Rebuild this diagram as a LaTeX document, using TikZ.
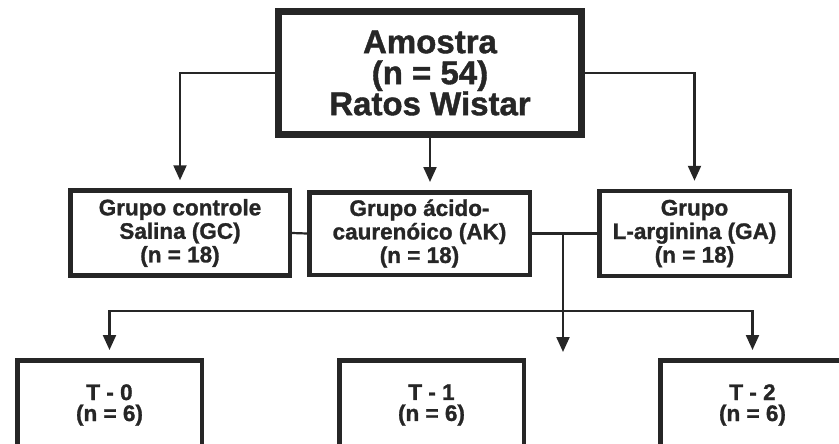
\documentclass[tikz,border=0pt]{standalone}
\usepackage{fontspec}
\setmainfont{Liberation Sans}[BoldFeatures={FakeBold=1.2}]
\usetikzlibrary{arrows.meta}
\definecolor{ink}{RGB}{38,38,38}
\begin{document}
\begin{tikzpicture}[x=1pt,y=-1pt,
    sample/.style ={rectangle, draw=ink, line width=7pt, text=ink, align=center, inner sep=0pt,
      minimum width=303pt, minimum height=123pt, font=\fontsize{33}{31}\selectfont\bfseries},
    group/.style ={rectangle, draw=ink, line width=4.5pt, text=ink, align=center, inner sep=0pt,
      minimum height=85pt, font=\fontsize{22.5}{23.5}\selectfont\bfseries},
    period/.style ={rectangle, draw=ink, line width=4.5pt, text=ink, align=center, inner sep=0pt,
      minimum width=184.5pt, minimum height=89.5pt, font=\fontsize{22.5}{21}\selectfont\bfseries},
    link/.style ={draw=ink, line width=2.2pt},
    flow/.style ={link, -{Triangle[width=13pt,length=15pt]}, shorten >=8pt}]
   \useasboundingbox (0,0) rectangle (839,444);
   \clip (0,0) rectangle (839,444);
   \node[sample] (amostra) at (430,73) {Amostra\\(n = 54)\\Ratos Wistar};
   \node[group, minimum width=219.5pt] (gc) at (180,233) {Grupo controle\\Salina (GC)\\(n = 18)};
   \node[group, minimum width=220.5pt, minimum height=82.5pt] (ak) at (419.5,233.5) {Grupo ácido-\\caurenóico (AK)\\(n = 18)};
   \node[group, minimum width=190.5pt] (ga) at (694.5,233.5) {Grupo\\L-arginina (GA)\\(n = 18)};
   \node[period] (t0) at (109.5,405) {T - 0\\(n = 6)};
   \node[period] (t1) at (431.5,405) {T - 1\\(n = 6)};
   \node[period] (t2) at (752.5,405) {T - 2\\(n = 6)};
   \coordinate (split) at (563,234);
   \coordinate (branch) at (563,311);
   \coordinate (open) at (563,360);
   \draw[flow] (amostra.west) -| (gc.north);
   \draw[flow] (amostra.east) -| (ga.north);
   \draw[flow] (amostra.south) -- (amostra.south |- ak.north);
   \draw[link] (gc.east) -- (ak.west);
   \draw[link] (ak.east) -- (ga.west);
   \draw[flow] (split) -- (open);
   \draw[flow] (branch) -| (t0.north);
   \draw[flow] (branch) -| (t2.north);
\end{tikzpicture}
\end{document}
